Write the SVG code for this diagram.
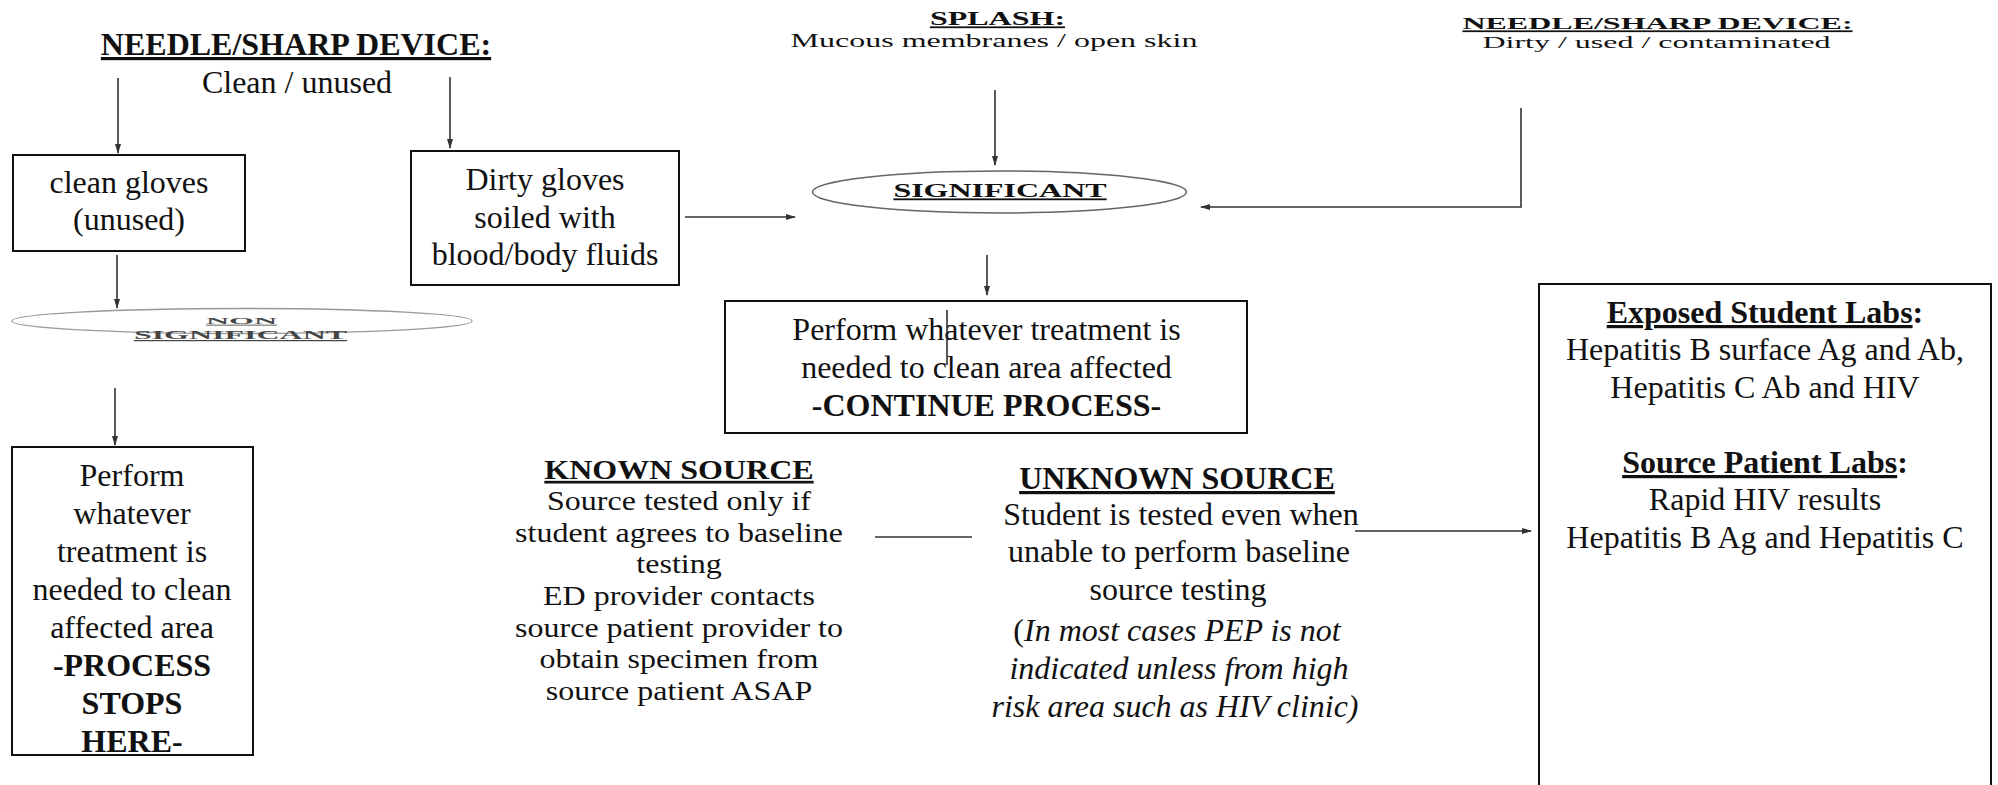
<svg xmlns="http://www.w3.org/2000/svg" width="1998" height="785" viewBox="0 0 1998 785">
<style>
.t{font-family:"Liberation Serif","Times New Roman",serif;font-size:32px;fill:#111;text-anchor:middle}
.b{font-weight:bold}
.u{text-decoration:underline}
.i{font-style:italic}
.box{fill:#fff;stroke:#111;stroke-width:2}
.conn{stroke:#333;stroke-width:1.6;fill:none}
.arr{marker-end:url(#ah)}
</style>
<defs>
<marker id="ah" markerUnits="userSpaceOnUse" markerWidth="10" markerHeight="6" refX="9" refY="3" orient="auto">
<path d="M0,0 L10,3 L0,6 z" fill="#333"/>
</marker>
</defs>
<rect width="1998" height="785" fill="#fff"/>

<g id="connectors">
<line class="conn arr" x1="118" y1="78" x2="118" y2="153"/>
<line class="conn arr" x1="450" y1="77" x2="450" y2="148"/>
<line class="conn arr" x1="117" y1="255" x2="117" y2="308"/>
<line class="conn arr" x1="115" y1="388" x2="115" y2="445"/>
<line class="conn arr" x1="685" y1="217" x2="795" y2="217"/>
<line class="conn arr" x1="995" y1="90" x2="995" y2="165"/>
<polyline class="conn arr" points="1521,108 1521,207 1201,207"/>
<line class="conn arr" x1="987" y1="255" x2="987" y2="295"/>
<line class="conn" x1="875" y1="537" x2="972" y2="537"/>
<line class="conn arr" x1="1355" y1="531" x2="1531" y2="531"/>
</g>

<g id="needle-clean">
<text class="t b" x="296" y="55"><tspan class="u">NEEDLE/SHARP DEVICE:</tspan></text>
<text class="t" x="297" y="93">Clean / unused</text>
</g>

<g id="splash">
<text class="t b u" transform="translate(997.5,25) scale(1,0.56)">SPLASH:</text>
<text class="t" transform="translate(994,47) scale(1,0.6)">Mucous membranes / open skin</text>
</g>

<g id="needle-dirty">
<text class="t b u" transform="translate(1657.5,29) scale(1,0.55)">NEEDLE/SHARP DEVICE:</text>
<text class="t" transform="translate(1656.5,48) scale(1,0.5)">Dirty / used / contaminated</text>
</g>

<g id="clean-gloves">
<rect class="box" x="13" y="155" width="232" height="96"/>
<text class="t" x="129" y="193">clean gloves</text>
<text class="t" x="129" y="230">(unused)</text>
</g>

<g id="dirty-gloves">
<rect class="box" x="411" y="151" width="268" height="134"/>
<text class="t" x="545" y="190">Dirty gloves</text>
<text class="t" x="545" y="228">soiled with</text>
<text class="t" x="545" y="265">blood/body fluids</text>
</g>

<g id="significant">
<ellipse cx="999.5" cy="192" rx="187" ry="21" fill="none" stroke="#666" stroke-width="1.5"/>
<text class="t b u" transform="translate(1000,197) scale(1,0.57)">SIGNIFICANT</text>
</g>

<g id="non-significant">
<ellipse cx="242" cy="321" rx="230" ry="12.5" fill="none" stroke="#999" stroke-width="1.3"/>
<text class="t b u" style="fill:#444" transform="translate(241.5,324) scale(1,0.26)">NON</text>
<text class="t b u" style="fill:#444" transform="translate(240.5,339) scale(1,0.38)">SIGNIFICANT</text>
</g>

<g id="stop-box">
<rect class="box" x="12" y="447" width="241" height="308"/>
<text class="t" x="132" y="486">Perform</text>
<text class="t" x="132" y="524">whatever</text>
<text class="t" x="132" y="562">treatment is</text>
<text class="t" x="132" y="600">needed to clean</text>
<text class="t" x="132" y="638">affected area</text>
<text class="t b" x="132" y="676">-PROCESS</text>
<text class="t b" x="132" y="714">STOPS</text>
<text class="t b" x="132" y="752">HERE-</text>
</g>

<g id="continue-box">
<rect class="box" x="725" y="301" width="522" height="132"/>
<text class="t" x="986.5" y="340">Perform whatever treatment is</text>
<text class="t" x="986.5" y="378">needed to clean area affected</text>
<text class="t b" x="986.5" y="416">-CONTINUE PROCESS-</text>
<line x1="947" y1="310" x2="947" y2="365" stroke="#222" stroke-width="1.5"/>
</g>

<g id="known-source" transform="translate(679,0)">
<text class="t b u" transform="translate(0,479) scale(1,0.84)">KNOWN SOURCE</text>
<text class="t" transform="translate(0,510) scale(1,0.84)">Source tested only if</text>
<text class="t" transform="translate(0,542) scale(1,0.84)">student agrees to baseline</text>
<text class="t" transform="translate(0,573) scale(1,0.84)">testing</text>
<text class="t" transform="translate(0,605) scale(1,0.84)">ED provider contacts</text>
<text class="t" transform="translate(0,637) scale(1,0.84)">source patient provider to</text>
<text class="t" transform="translate(0,668) scale(1,0.84)">obtain specimen from</text>
<text class="t" transform="translate(0,700) scale(1,0.84)">source patient ASAP</text>
</g>

<g id="unknown-source">
<text class="t b u" x="1177" y="489">UNKNOWN SOURCE</text>
<text class="t" x="1181" y="525">Student is tested even when</text>
<text class="t" x="1179" y="562">unable to perform baseline</text>
<text class="t" x="1178" y="600">source testing</text>
<text class="t" x="1177" y="641">(<tspan class="i">In most cases PEP is not</tspan></text>
<text class="t i" x="1179" y="679">indicated unless from high</text>
<text class="t i" x="1175" y="717">risk area such as HIV clinic)</text>
</g>

<g id="labs-box">
<rect class="box" x="1539" y="284" width="452" height="520"/>
<text class="t b" x="1765" y="323"><tspan class="u">Exposed Student Labs</tspan>:</text>
<text class="t" x="1765" y="360">Hepatitis B surface Ag and Ab,</text>
<text class="t" x="1765" y="398">Hepatitis C Ab and HIV</text>
<text class="t b" x="1765" y="473"><tspan class="u">Source Patient Labs</tspan>:</text>
<text class="t" x="1765" y="510">Rapid HIV results</text>
<text class="t" x="1765" y="548">Hepatitis B Ag and Hepatitis C</text>
</g>
</svg>
